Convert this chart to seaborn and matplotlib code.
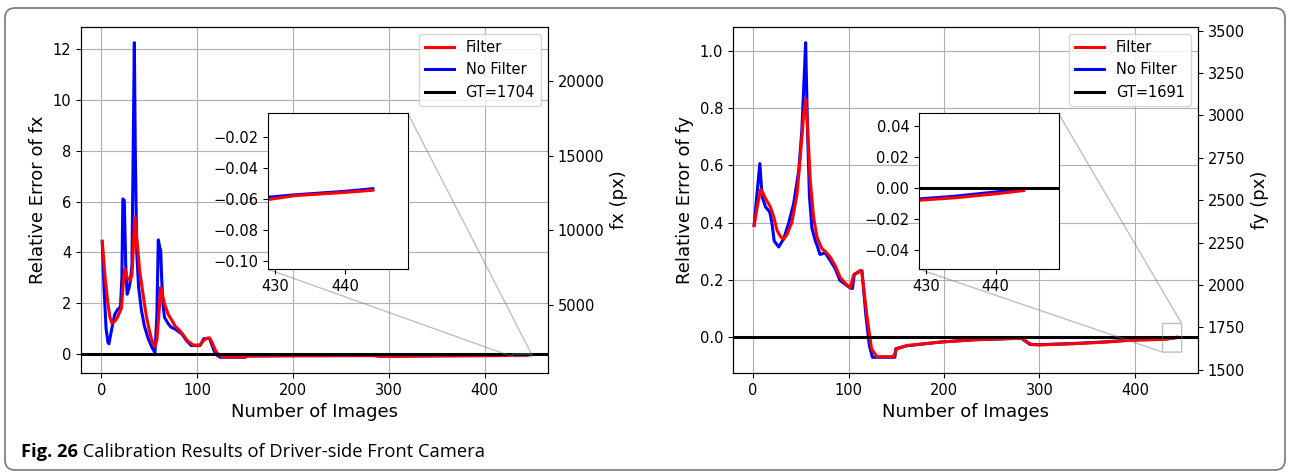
import matplotlib
matplotlib.use("Agg")
import matplotlib.pyplot as plt
import matplotlib.patches as mpatches
import seaborn as sns
import numpy as np

# ---- data ----
# fx: relative error, Filter (red) / No Filter (blue)
fx_x_filter = [1, 4, 7, 9, 11, 14, 17, 21, 23, 24.5, 27, 30, 32, 35, 37, 40, 43, 47, 50, 53,
               56, 58, 60, 62, 64, 66, 70, 74, 77, 82, 86, 90, 96, 103, 106, 110, 113, 116,
               119, 122, 126, 130, 150, 153, 200, 285, 290, 305, 350, 400, 429, 433, 440, 444]
fx_err_filter = [4.44, 3.0, 1.97, 1.45, 1.22, 1.28, 1.45, 1.8, 2.8, 3.35, 3.0, 2.9, 3.1, 5.38,
                 4.6, 3.3, 2.5, 1.5, 0.95, 0.5, 0.29, 0.55, 1.5, 2.62, 2.3, 1.97, 1.55, 1.3,
                 1.1, 0.92, 0.72, 0.52, 0.35, 0.35, 0.5, 0.62, 0.63, 0.42, 0.15, -0.02, -0.1,
                 -0.12, -0.12, -0.08, -0.07, -0.064, -0.09, -0.09, -0.075, -0.066, -0.0603,
                 -0.0577, -0.0557, -0.0543]
fx_x_nofilter = [1, 3, 5, 7, 8, 10, 12, 14, 17, 20, 21.5, 22.5, 24, 25.5, 27, 29, 30.5, 32,
                 34.5, 35.5, 37, 39, 42, 45, 49, 53, 56, 58, 59.5, 61, 62, 63, 64.5, 66, 70,
                 73, 77, 84, 89, 94, 103, 107, 113, 115, 118, 121, 124, 150, 152, 200, 285,
                 290, 305, 350, 400, 429, 433, 440, 444]
fx_err_nofilter = [4.4, 2.5, 1.0, 0.45, 0.4, 0.8, 1.2, 1.55, 1.75, 1.85, 3.0, 6.1, 6.05, 3.5,
                   2.35, 2.6, 2.9, 3.5, 12.25, 8.0, 4.0, 2.6, 1.7, 1.1, 0.6, 0.25, 0.05, 1.5,
                   4.49, 4.2, 4.07, 3.0, 1.9, 1.44, 1.18, 1.05, 0.98, 0.79, 0.52, 0.33, 0.33,
                   0.6, 0.62, 0.4, 0.1, -0.05, -0.13, -0.13, -0.08, -0.068, -0.062, -0.088,
                   -0.088, -0.073, -0.065, -0.0588, -0.0572, -0.055, -0.0533]

# fy: relative error
fy_x_filter = [1, 4, 7.7, 10, 13, 18, 21.6, 25, 28.5, 32, 35.5, 40.7, 46, 49.4, 53, 55, 57,
               59.8, 63.3, 66.8, 72, 75.5, 80.7, 86, 91, 96, 102, 105, 112, 114, 119, 124,
               129.6, 147, 150.5, 161, 196, 231, 281, 291.6, 300, 335, 370, 394, 415, 429,
               434, 440, 444]
fy_err_filter = [0.39, 0.45, 0.515, 0.505, 0.484, 0.455, 0.42, 0.373, 0.352, 0.342, 0.359,
                 0.402, 0.5, 0.63, 0.78, 0.83, 0.734, 0.548, 0.42, 0.35, 0.309, 0.3, 0.28,
                 0.25, 0.21, 0.19, 0.172, 0.215, 0.233, 0.225, 0.08, -0.04, -0.068, -0.068,
                 -0.041, -0.029, -0.017, -0.009, -0.0035, -0.026, -0.027, -0.023, -0.017,
                 -0.011, -0.009, -0.0077, -0.0062, -0.0036, -0.0015]
fy_x_nofilter = [1, 4, 7, 9.4, 12.9, 17.4, 19.8, 22, 26.8, 32, 37, 42.4, 47.7, 51, 53.6, 55,
                 57, 59, 61.6, 65, 67.5, 70, 75.5, 80.7, 86, 91, 96, 101.6, 104, 106, 112,
                 114, 118, 121.8, 125, 148.5, 149.5, 161, 196, 231, 281, 290, 300, 335, 370,
                 394, 415, 429, 434, 440, 444]
fy_err_nofilter = [0.39, 0.5, 0.606, 0.49, 0.455, 0.437, 0.396, 0.336, 0.315, 0.344, 0.396,
                   0.466, 0.58, 0.72, 0.92, 1.028, 0.72, 0.49, 0.38, 0.338, 0.315, 0.289,
                   0.294, 0.268, 0.239, 0.198, 0.186, 0.172, 0.17, 0.22, 0.23, 0.232, 0.08,
                   -0.03, -0.07, -0.07, -0.04, -0.03, -0.017, -0.009, -0.0035, -0.025, -0.026,
                   -0.022, -0.016, -0.01, -0.008, -0.0069, -0.0052, -0.0024, -0.0002]

gt_fx = 1704
gt_fy = 1691
caption_bold = "Fig. 26"
caption_text = " Calibration Results of Driver-side Front Camera"

plt.rcParams["font.size"] = 10.5

fig = plt.figure(figsize=(12.9, 4.74), dpi=100)
ax_l = fig.add_axes([0.0628, 0.2131, 0.3620, 0.7300])
ax_r = fig.add_axes([0.5682, 0.2131, 0.3605, 0.7300])


def draw_curves(ax, xf, yf, xn, yn, gt_label):
    ax.axhline(0, color="black", lw=2.2, zorder=3, label=gt_label)
    sns.lineplot(x=xn, y=yn, ax=ax, color="blue", lw=2.2, label="No Filter", zorder=2)
    sns.lineplot(x=xf, y=yf, ax=ax, color="red", lw=2.2, label="Filter", zorder=2.5)


def make_panel(ax, xf, yf, xn, yn, gt, name, ins_ylim):
    draw_curves(ax, xf, yf, xn, yn, f"GT={gt}")
    ax.grid(True, color="#b0b0b0", lw=0.8)
    ax.set_xlabel("Number of Images", fontsize=13)
    ax.set_ylabel(f"Relative Error of {name}", fontsize=13)
    ax.tick_params(labelsize=10.5)
    h, lab = ax.get_legend_handles_labels()
    order = [lab.index("Filter"), lab.index("No Filter"), lab.index(f"GT={gt}")]
    ax.legend([h[i] for i in order], [lab[i] for i in order], loc="upper right", fontsize=10.5)

    lo, hi = ax.get_ylim()
    tw = ax.twinx()
    tw.set_ylim(gt * (1 + lo), gt * (1 + hi))
    tw.set_ylabel(f"{name} (px)", fontsize=13)
    tw.tick_params(labelsize=10.5)

    axins = ax.inset_axes([0.40, 0.30, 0.30, 0.45])
    draw_curves(axins, xf, yf, xn, yn, None)
    if axins.get_legend():
        axins.get_legend().remove()
    axins.set_xlim(429, 449)
    axins.set_ylim(*ins_ylim)
    axins.set_xlabel("")
    axins.set_ylabel("")
    axins.tick_params(labelsize=10.5)
    ax.indicate_inset_zoom(axins, edgecolor="0.5")
    return tw


make_panel(ax_l, fx_x_filter, fx_err_filter, fx_x_nofilter, fx_err_nofilter,
           gt_fx, "fx", (-0.105, -0.005))
make_panel(ax_r, fy_x_filter, fy_err_filter, fy_x_nofilter, fy_err_nofilter,
           gt_fy, "fy", (-0.052, 0.048))

# caption and rounded frame
border = mpatches.FancyBboxPatch((0.05, 0.04), 12.8, 4.62,
                                 boxstyle="round,pad=0,rounding_size=0.1",
                                 transform=fig.dpi_scale_trans, fill=False,
                                 edgecolor="#777777", lw=1.2)
fig.patches.append(border)

t1 = fig.text(21 / 1290, 1 - 457 / 474, caption_bold, fontsize=13.2, weight="bold",
              family="Open Sans", va="baseline")
fig.canvas.draw()
bb = t1.get_window_extent()
fig.text(bb.x1 / 1290, 1 - 457 / 474, caption_text, fontsize=13.2,
         family="Open Sans", va="baseline")

fig.savefig("out.png", dpi=100)
